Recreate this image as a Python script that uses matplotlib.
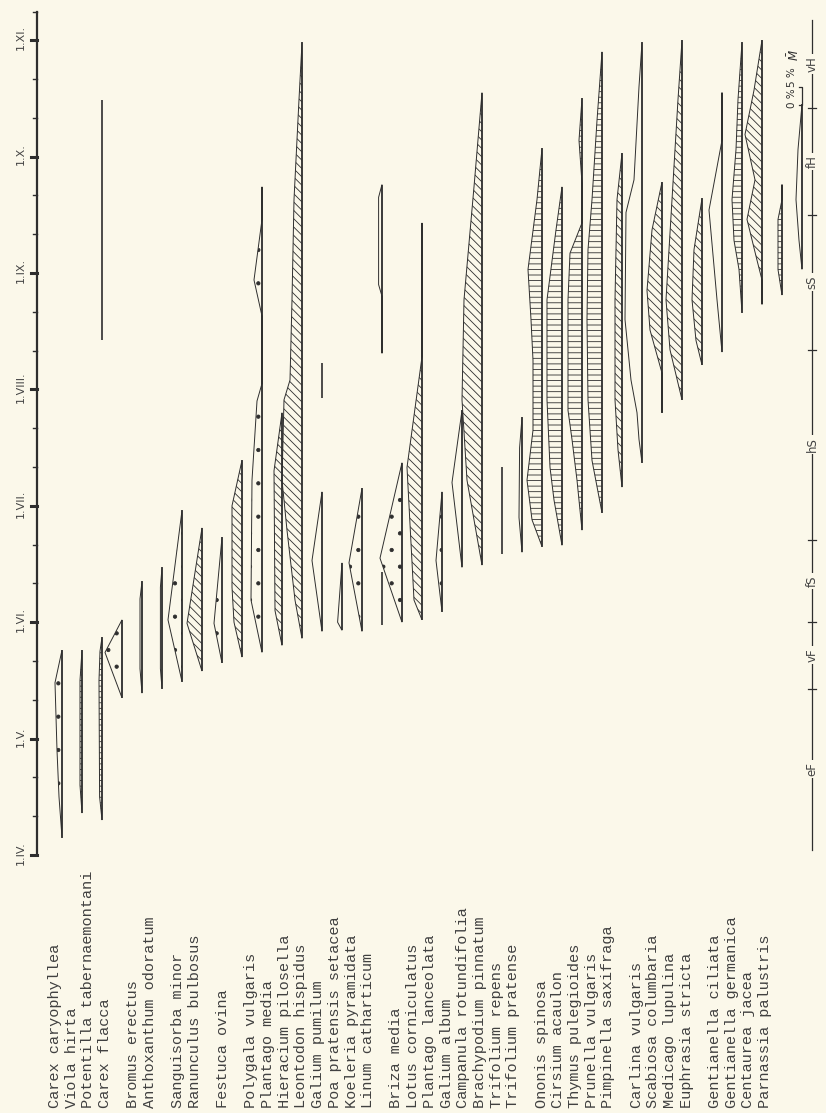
import matplotlib
matplotlib.use('Agg')
import matplotlib.pyplot as plt
import numpy as np

# time axis: months after 1 April (0 = 1.IV., 7 = 1.XI.)
month_labels = ['1.IV.', '1.V.', '1.VI.', '1.VII.', '1.VIII.', '1.IX.', '1.X.', '1.XI.']

# seasons (phenological) and their limits in months after 1.IV.
season_names = ['eF', 'vF', 'fS', 'hS', 'sS', 'fH', 'vH']
season_bounds = [0.04, 1.43, 2.0, 2.71, 4.34, 5.5, 6.42, 7.17]

groups = [
    ['Carex caryophyllea', 'Viola hirta', 'Potentilla tabernaemontani', 'Carex flacca'],
    ['Bromus erectus', 'Anthoxanthum odoratum'],
    ['Sanguisorba minor', 'Ranunculus bulbosus'],
    ['Festuca ovina'],
    ['Polygala vulgaris', 'Plantago media', 'Hieracium pilosella', 'Leontodon hispidus',
     'Galium pumilum', 'Poa pratensis setacea', 'Koeleria pyramidata', 'Linum catharticum'],
    ['Briza media', 'Lotus corniculatus', 'Plantago lanceolata', 'Galium album',
     'Campanula rotundifolia', 'Brachypodium pinnatum', 'Trifolium repens', 'Trifolium pratense'],
    ['Ononis spinosa', 'Cirsium acaulon', 'Thymus pulegioides', 'Prunella vulgaris',
     'Pimpinella saxifraga'],
    ['Carlina vulgaris', 'Scabiosa columbaria', 'Medicago lupulina', 'Euphrasia stricta'],
    ['Gentianella ciliata', 'Gentianella germanica', 'Centaurea jacea', 'Parnassia palustris'],
]

# flowering share: segments of (months after 1.IV., percent)
profiles = {
    'Carex caryophyllea': [[(0.15, 0), (0.5, 1.5), (0.9, 2.5), (1.48, 3.5), (1.76, 0)]],
    'Viola hirta': [[(0.36, 0), (0.6, 1), (1.5, 1), (1.76, 0)]],
    'Potentilla tabernaemontani': [[(0.3, 0), (0.5, 1.2), (1.5, 1.5), (1.75, 1), (1.87, 0)],
                                   [(4.42, 0), (6.49, 0)]],
    'Carex flacca': [[(1.35, 0), (1.74, 8.5), (2.02, 0)]],
    'Bromus erectus': [[(1.39, 0), (1.6, 1), (2.2, 1), (2.35, 0)]],
    'Anthoxanthum odoratum': [[(1.43, 0), (1.6, 0.8), (2.3, 0.8), (2.47, 0)]],
    'Sanguisorba minor': [[(1.49, 0), (2.02, 7), (2.96, 0)]],
    'Ranunculus bulbosus': [[(1.58, 0), (1.99, 7.5), (2.81, 0)]],
    'Festuca ovina': [[(1.65, 0), (1.99, 4), (2.73, 0)]],
    'Polygala vulgaris': [[(1.70, 0), (2.0, 4), (2.3, 5), (3.0, 5), (3.39, 0)]],
    'Plantago media': [[(1.74, 0), (2.19, 5.5), (3.22, 5), (3.9, 2.5), (4.05, 0), (4.63, 0),
                        (4.94, 4), (5.46, 0), (5.74, 0)]],
    'Hieracium pilosella': [[(1.80, 0), (2.1, 3.5), (3.3, 4), (3.80, 0)]],
    'Leontodon hispidus': [[(1.86, 0), (2.19, 3.5), (2.79, 7.5), (3.22, 10), (3.91, 9),
                            (4.08, 6), (4.77, 5), (5.63, 4), (6.49, 1.5), (6.98, 0)]],
    'Galium pumilum': [[(1.92, 0), (2.53, 5), (3.12, 0)], [(3.93, 0), (4.23, 0)]],
    'Poa pratensis setacea': [[(1.93, 0), (2.0, 2.2), (2.51, 0)]],
    'Koeleria pyramidata': [[(1.92, 0), (2.51, 6.5), (3.15, 0)]],
    'Linum catharticum': [[(1.98, 0), (2.43, 0)],
                          [(4.31, 0), (4.8, 0), (4.9, 1.7), (5.65, 1.7), (5.76, 0)]],
    'Briza media': [[(2.0, 0), (2.55, 11), (3.37, 0)]],
    'Lotus corniculatus': [[(2.02, 0), (2.19, 4), (3.33, 7.5), (4.28, 0), (5.43, 0)]],
    'Plantago lanceolata': [[(2.09, 0), (2.53, 3), (3.12, 0)]],
    'Galium album': [[(2.47, 0), (3.20, 5), (3.82, 0)]],
    'Campanula rotundifolia': [[(2.49, 0), (3.22, 7.5), (3.91, 10), (4.77, 9), (5.74, 4), (6.55, 0)]],
    'Brachypodium pinnatum': [[(2.59, 0), (3.33, 0)]],
    'Trifolium repens': [[(2.60, 0), (2.9, 1.5), (3.5, 1.2), (3.76, 0)]],
    'Trifolium pratense': [[(2.65, 0), (2.88, 5), (3.22, 7.5), (3.65, 4.5), (4.25, 4.5),
                            (4.60, 5.5), (5.03, 7), (5.63, 2.5), (6.07, 0)]],
    'Ononis spinosa': [[(2.66, 0), (3.05, 4), (3.33, 6), (3.91, 7.5), (4.77, 7.5), (5.37, 3), (5.74, 0)]],
    'Cirsium acaulon': [[(2.79, 0), (3.22, 2.5), (3.57, 5), (3.82, 7), (4.77, 7), (5.17, 6),
                         (5.43, 0), (5.77, 0), (6.14, 1.5), (6.50, 0)]],
    'Thymus pulegioides': [[(2.94, 0), (3.39, 5), (3.91, 7), (4.60, 7.5), (5.20, 7), (5.63, 5),
                            (6.31, 2.5), (6.90, 0)]],
    'Prunella vulgaris': [[(3.16, 0), (3.48, 2), (3.91, 3.5), (4.77, 3.5), (5.63, 2.5), (6.03, 0)]],
    'Pimpinella saxifraga': [[(3.37, 0), (3.57, 1.5), (3.80, 2.5), (4.08, 5.5), (4.60, 8.5),
                              (5.52, 8), (5.80, 4), (6.60, 1.5), (6.98, 0)]],
    'Carlina vulgaris': [[(3.80, 0), (4.14, 0), (4.51, 6), (4.85, 7.5), (5.37, 5), (5.78, 0)]],
    'Scabiosa columbaria': [[(3.91, 0), (4.34, 6), (4.77, 8), (5.63, 5), (6.49, 2), (7.0, 0)]],
    'Medicago lupulina': [[(4.21, 0), (4.42, 3), (4.77, 5), (5.20, 4), (5.64, 0)]],
    'Euphrasia stricta': [[(4.32, 0), (4.77, 2.5), (5.54, 6.5), (6.14, 0), (6.55, 0)]],
    'Gentianella ciliata': [[(4.66, 0), (5.03, 1.5), (5.28, 4), (5.63, 5), (6.06, 3), (6.49, 2), (6.98, 0)]],
    'Gentianella germanica': [[(4.73, 0), (4.94, 0), (5.11, 2.5), (5.46, 7.5), (5.80, 3.5),
                               (6.19, 8.5), (6.57, 4), (7.0, 0)]],
    'Centaurea jacea': [[(4.81, 0), (5.03, 2), (5.46, 2), (5.63, 0), (5.76, 0)]],
    'Parnassia palustris': [[(5.03, 0), (5.28, 1.5), (5.63, 3), (6.06, 2), (6.45, 0)]],
}

dots = '.'
diag = '\\\\\\\\'
horiz = '---'
hatches = {
    'Carex caryophyllea': dots, 'Viola hirta': horiz, 'Potentilla tabernaemontani': horiz,
    'Carex flacca': dots, 'Sanguisorba minor': dots, 'Ranunculus bulbosus': diag,
    'Festuca ovina': dots, 'Polygala vulgaris': diag, 'Plantago media': dots,
    'Hieracium pilosella': diag, 'Leontodon hispidus': diag, 'Koeleria pyramidata': dots,
    'Briza media': dots, 'Lotus corniculatus': diag, 'Plantago lanceolata': dots,
    'Campanula rotundifolia': diag, 'Trifolium pratense': horiz, 'Ononis spinosa': horiz,
    'Cirsium acaulon': horiz, 'Thymus pulegioides': horiz, 'Prunella vulgaris': diag,
    'Carlina vulgaris': diag, 'Scabiosa columbaria': diag, 'Medicago lupulina': diag,
    'Gentianella ciliata': horiz, 'Gentianella germanica': diag, 'Centaurea jacea': horiz,
}

PCT_PER_SLOT = 10.0   # width scale: one row spacing = 10 %
INK = '#2e2e2e'
PAPER = '#fbf8ea'
SANS = ['DejaVu Sans']

plt.rcParams['hatch.linewidth'] = 0.6
plt.rcParams['hatch.color'] = INK

fig = plt.figure(figsize=(8.26, 11.13), dpi=100, facecolor=PAPER)
ax = fig.add_axes([0, 0, 1, 1])
ax.set_facecolor(PAPER)
ax.set_xlim(-3.1, 38.2)
ax.set_ylim(-2.2165, 7.345)
ax.axis('off')

species = [s for g in groups for s in g]

# spindles
for i, name in enumerate(species):
    for seg in profiles[name]:
        m = np.array([p[0] for p in seg])
        pct = np.array([p[1] for p in seg])
        if pct.max() > 0:
            xs = np.concatenate([np.full(len(m), i), (i - pct / PCT_PER_SLOT)[::-1]])
            ys = np.concatenate([m, m[::-1]])
            ax.fill(xs, ys, facecolor='none', edgecolor=INK, lw=0.7,
                    hatch=hatches.get(name))
        ax.plot([i, i], [m[0], m[-1]], color=INK, lw=1.2, solid_capstyle='butt')

# species names (typewriter), with small gaps between groups
pitch, gap = 0.835, 0.575
pos = -0.35
for gi, g in enumerate(groups):
    for name in g:
        ax.text(pos, -2.17, name, rotation=90, ha='center', va='bottom',
                family='Liberation Mono', fontsize=11, color='#404040')
        pos += pitch
    pos += gap

# time axis
tx = -1.25
ax.plot([tx, tx], [0, 7.24], color=INK, lw=1.6)
for k, lab in enumerate(month_labels):
    ax.plot([tx - 0.32, tx], [k, k], color=INK, lw=2.2)
    ax.text(tx - 0.82, k + 0.02, lab, rotation=90, ha='center', va='center',
            family=SANS, fontsize=8, color='#444444')
for k in range(7):
    for f in (1 / 3, 2 / 3):
        ax.plot([tx - 0.18, tx], [k + f, k + f], color=INK, lw=1.0)
ax.plot([tx - 0.18, tx], [7.24, 7.24], color=INK, lw=1.0)

# season axis
sx = 37.5
ax.plot([sx, sx], [season_bounds[0], season_bounds[-1]], color=INK, lw=0.9)
for b in season_bounds[1:-1]:
    ax.plot([sx - 0.2, sx + 0.2], [b, b], color=INK, lw=0.9)
for k, s in enumerate(season_names):
    mid = (season_bounds[k] + season_bounds[k + 1]) / 2
    ax.text(sx, mid, s, rotation=90, ha='center', va='center', fontsize=8.5,
            family=SANS, color='#444444',
            bbox=dict(facecolor=PAPER, edgecolor='none', pad=1.5))

# scale legend
ax.text(36.6, 6.87, r'$\bar{M}$', rotation=90, ha='center', va='center', fontsize=8.5, color=INK)
ax.text(36.5, 6.68, '5 %', rotation=90, ha='center', va='center', fontsize=7.5,
        family=SANS, color=INK)
ax.text(36.5, 6.50, '0 %', rotation=90, ha='center', va='center', fontsize=7.5,
        family=SANS, color=INK)
ax.plot([36.85, 36.98, 36.98, 36.85], [6.60, 6.60, 6.44, 6.44], color=INK, lw=0.9)

fig.savefig('out.png', dpi=100, facecolor=PAPER)
